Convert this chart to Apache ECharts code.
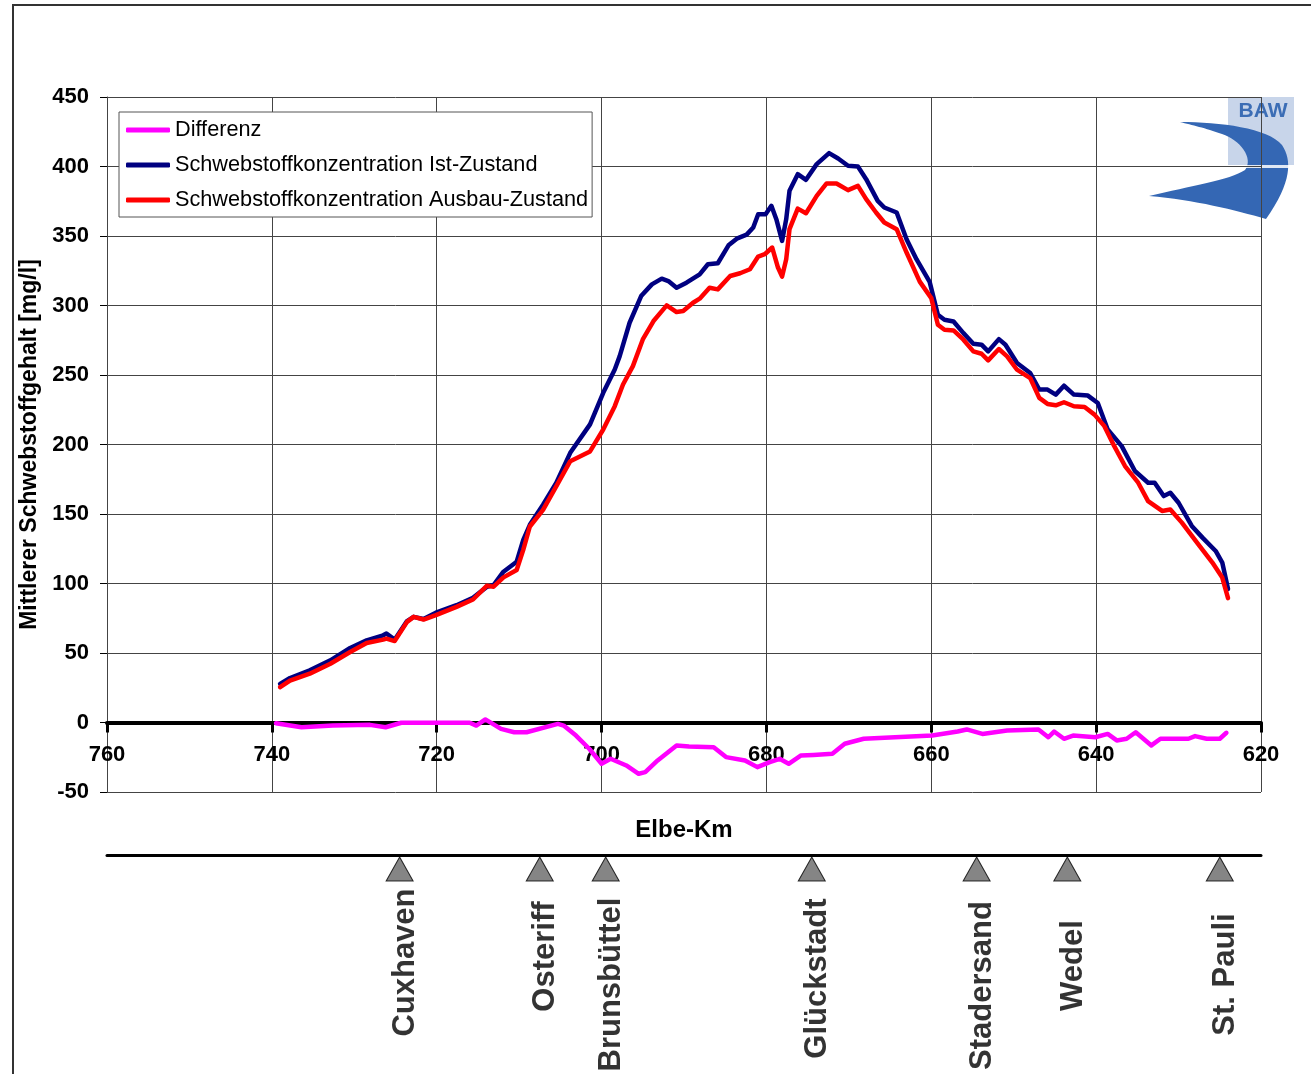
<!DOCTYPE html>
<html>
<head>
<meta charset="utf-8">
<script src="https://cdn.jsdelivr.net/npm/echarts@6/dist/echarts.min.js"></script>
<style>
  html, body { margin: 0; padding: 0; background: #fff; }
  #chart { width: 1311px; height: 1074px; }
</style>
</head>
<body>
<div id="chart"></div>
<script>
// Elbe-Km positions (descending, upstream to the right) and values in mg/l
const kmIst = [739.0,737.8,735.4,732.9,730.5,728.5,726.5,726.1,725.1,723.6,722.8,721.6,720.1,717.6,715.6,713.9,713.1,711.9,710.3,709.5,708.7,707.1,705.5,703.8,701.4,699.8,698.4,697.8,696.6,695.2,693.9,692.7,691.9,690.9,689.7,688.1,687.1,685.9,684.6,683.6,682.4,681.6,681.0,680.1,679.4,678.8,678.1,677.6,677.2,676.2,675.2,673.9,672.4,671.3,670.1,668.9,667.9,666.5,665.7,664.2,663.0,661.8,660.2,659.2,658.4,657.3,656.1,654.9,653.9,653.1,651.8,651.0,649.6,648.0,646.9,645.9,644.9,643.9,642.7,641.0,639.8,638.6,636.9,635.3,633.7,632.9,631.8,631.0,630.0,628.4,627.1,625.5,624.7,624.0];
const ist = [27.8,32,37.5,44.7,53.6,59.1,62.7,64,59.6,73,76,74.5,79,84.4,89.7,97.7,98.9,108.5,115.7,131.4,142.2,156.7,172.3,194,214.5,237.2,254.0,263.6,287.6,306.8,315.2,319.3,317.6,312.8,316.4,322.4,329.7,330.4,343.3,348.1,351.0,356.1,365.7,365.7,371.7,362.1,346.5,362.1,382.5,394.5,390.4,401.7,409.6,405.8,400.5,400,390.9,375.3,370.5,366.9,347.7,333.3,317,293.3,289.7,288.5,280.1,272.5,271.8,267.0,275.8,271.8,258.6,251.4,239.5,239.5,235.9,242.3,235.9,235.2,229.9,210.8,198.8,180.9,172.5,172.5,162.9,165.3,158.1,141.4,133.0,123.4,115.1,96];

const kmAusbau = [739.0,737.8,735.4,732.9,730.5,728.5,726.5,726.1,725.1,723.6,722.8,721.6,720.1,717.6,715.6,713.9,713.1,711.9,710.3,709.5,708.7,707.1,705.5,703.8,701.4,699.8,698.4,697.4,696.2,695.0,693.7,692.1,690.9,690.1,688.9,688.1,686.9,685.9,684.4,683.2,682.0,681.0,680.2,679.3,678.6,678.1,677.6,677.2,676.2,675.2,673.9,672.7,671.5,670.1,668.9,667.9,666.7,665.7,664.2,663.0,661.4,660.0,659.2,658.4,657.3,656.1,654.9,653.9,653.1,651.8,650.8,649.6,648.0,646.9,645.9,644.9,643.9,642.7,641.4,640.2,639.0,637.8,636.5,634.9,633.7,632.0,631.0,629.6,627.6,625.9,624.7,624.0];
const ausbau = [25.4,30.2,35.1,42.3,50.7,57.2,59.6,60.3,58.6,72.4,76.0,74.1,77.2,83.2,88.5,98.4,97.7,104.4,109.7,124.2,141.0,153.0,169.9,188.0,195,210.8,227.6,243.2,256.4,275.6,288.8,300.1,295.3,296.0,302.0,304.9,312.8,311.6,321.2,323.2,326.1,335.2,336.9,341.7,327.3,320.8,333.3,354.9,369.7,366.4,378.9,387.8,387.8,383.0,386.1,376.5,366.9,359.7,354.9,338.1,317.2,305.3,286.1,282.5,282.1,275.4,267.0,265.3,260.5,268.7,263.4,253.8,247.8,233.5,229.2,228.2,230.4,227.5,227.0,221.5,213.2,198.8,184.5,172.5,159.3,152.2,153.3,143.8,128.2,115.1,104.3,89.5];

const kmDiff = [739.5,736.4,732.6,728.1,726.2,724.3,716.0,715.2,714.1,712.2,710.6,709.1,705.3,704.6,703.1,701.5,700.0,698.9,697.0,695.5,694.7,693.2,690.9,689.4,686.4,684.9,682.6,681.1,679.6,678.4,677.3,675.8,674.3,672.0,670.5,668.2,664.4,659.9,656.8,655.7,653.8,650.8,647.0,645.8,645.1,643.9,642.8,640.1,638.6,637.5,636.3,635.2,633.3,632.2,628.8,628.0,626.6,625.0,624.2];
const differenz = [-0.5,-3.4,-2.2,-1.7,-3.4,-0.2,-0.2,-2.2,2.2,-4.6,-7.0,-7.0,-1.0,-2.2,-9.4,-18.9,-29.7,-26.1,-30.9,-36.9,-35.7,-27.3,-16.5,-17.3,-17.8,-24.9,-27.3,-32.1,-28.5,-26.1,-29.7,-23.7,-23.3,-22.5,-15.3,-11.7,-10.6,-9.4,-6.5,-5.0,-8.2,-5.8,-5.0,-10.6,-6.5,-11.7,-9.4,-10.6,-8.2,-12.9,-11.7,-7.0,-16.5,-11.7,-11.7,-9.8,-11.7,-11.7,-7.4];

// Gauging stations along the river
const stationNames = ['Cuxhaven','Osteriff','Brunsbüttel','Glückstadt','Stadersand','Wedel','St. Pauli'];
const stationKm = [724.5,707.5,699.5,674.5,654.5,643.5,625.0];

const seriesNames = ['Differenz','Schwebstoffkonzentration Ist-Zustand','Schwebstoffkonzentration Ausbau-Zustand'];
const xName = 'Elbe-Km';
const yName = 'Mittlerer Schwebstoffgehalt [mg/l]';

const FONT = '"Liberation Sans", Arial, sans-serif';
const pairs = (xs, ys) => xs.map((x, i) => [x, ys[i]]);

// Vertical placement of each rotated station label below its marker (px from marker top)
const stationLabelDrop = { 'Cuxhaven': 106, 'Osteriff': 100, 'Brunsbüttel': 128, 'Glückstadt': 122, 'Stadersand': 129, 'Wedel': 109, 'St. Pauli': 118 };

// Sample a chain of cubic Bézier segments into polygon points (for the logo swoosh)
function bezierOutline(start, segments, steps) {
  const pts = [start];
  let p0 = start;
  segments.forEach(([c1, c2, p3]) => {
    for (let s = 1; s <= steps; s++) {
      const t = s / steps, u = 1 - t;
      pts.push([
        u*u*u*p0[0] + 3*u*u*t*c1[0] + 3*u*t*t*c2[0] + t*t*t*p3[0],
        u*u*u*p0[1] + 3*u*u*t*c1[1] + 3*u*t*t*c2[1] + t*t*t*p3[1]
      ]);
    }
    p0 = p3;
  });
  return pts;
}

const swoosh = bezierOutline([1180, 122], [
  [[1220, 122], [1268, 128], [1282, 145]],
  [[1292, 160], [1292, 182], [1266, 219]],
  [[1235, 210], [1195, 200], [1149, 196]],
  [[1190, 186], [1230, 180], [1245, 170]],
  [[1254, 158], [1240, 140], [1222, 134]],
  [[1205, 128], [1192, 125], [1180, 122]]
], 16);

const chart = echarts.init(document.getElementById('chart'), null, { renderer: 'canvas' });

const lineSeries = (name, color, data) => ({
  name, type: 'line', xAxisIndex: 0, yAxisIndex: 0,
  data, symbol: 'none', smooth: false,
  lineStyle: { color, width: 4.5, cap: 'round', join: 'round' },
  itemStyle: { color },
  emphasis: { disabled: true },
  animation: false
});

chart.setOption({
  backgroundColor: '#fff',
  animation: false,
  grid: [
    { left: 107, right: 50, top: 97, bottom: 282, outerBoundsMode: 'none' },
    { left: 107, right: 50, top: 855, height: 30, outerBoundsMode: 'none' }
  ],
  legend: {
    data: seriesNames,
    orient: 'vertical',
    left: 119, top: 112,
    padding: [7, 4, 6, 7],
    itemGap: 13,
    itemWidth: 44, itemHeight: 5,
    icon: 'roundRect',
    backgroundColor: '#fff',
    borderColor: '#555', borderWidth: 1,
    textStyle: { fontFamily: FONT, fontSize: 21.7, color: '#000' },
    selectedMode: false
  },
  xAxis: [
    {
      type: 'value', gridIndex: 0, min: 620, max: 760, interval: 20, inverse: true,
      name: xName, nameLocation: 'middle', nameGap: 26,
      nameTextStyle: { fontFamily: FONT, fontSize: 24, fontWeight: 'bold', color: '#000' },
      axisLine: { show: true, onZero: true, lineStyle: { color: '#000', width: 4 } },
      axisTick: { show: true, length: 10, lineStyle: { color: '#000', width: 3 } },
      axisLabel: { margin: -48, fontFamily: FONT, fontSize: 22, fontWeight: 'bold', color: '#000' },
      splitLine: { show: true, lineStyle: { color: '#444', width: 1 } }
    },
    {
      type: 'value', gridIndex: 1, min: 620, max: 760, inverse: true, position: 'top',
      axisLine: { show: true, onZero: false, lineStyle: { color: '#000', width: 3 } },
      axisTick: { show: false }, axisLabel: { show: false }, splitLine: { show: false }
    }
  ],
  yAxis: [
    {
      type: 'value', gridIndex: 0, min: -50, max: 450, interval: 50,
      name: yName, nameLocation: 'middle', nameGap: 66,
      nameTextStyle: { fontFamily: FONT, fontSize: 23, fontWeight: 'bold', color: '#000' },
      axisLine: { show: true, lineStyle: { color: '#444', width: 1 } },
      axisTick: { show: true, length: 7, lineStyle: { color: '#000', width: 1 } },
      axisLabel: { margin: 18, fontFamily: FONT, fontSize: 22, fontWeight: 'bold', color: '#000' },
      splitLine: { show: true, lineStyle: { color: '#444', width: 1 } }
    },
    { type: 'value', gridIndex: 1, min: 0, max: 1, show: false }
  ],
  series: [
    lineSeries(seriesNames[0], '#ff00ff', pairs(kmDiff, differenz)),
    lineSeries(seriesNames[1], '#000080', pairs(kmIst, ist)),
    lineSeries(seriesNames[2], '#ff0000', pairs(kmAusbau, ausbau)),
    {
      name: 'Pegel', type: 'scatter', xAxisIndex: 1, yAxisIndex: 1,
      data: stationKm.map((k, i) => ({
        name: stationNames[i], value: [k, 1],
        label: { position: [20, stationLabelDrop[stationNames[i]]] }
      })),
      symbol: 'triangle', symbolSize: [27, 24], symbolOffset: [0, 14],
      itemStyle: { color: '#666', borderColor: '#000', borderWidth: 1 },
      label: {
        show: true, formatter: '{b}', rotate: 90,
        position: [20, 116], align: 'center', verticalAlign: 'middle',
        fontFamily: FONT, fontSize: 31, fontWeight: 'bold', color: '#000'
      },
      emphasis: { disabled: true },
      silent: true, animation: false
    }
  ],
  graphic: [
    // outer frame of the figure
    { type: 'polyline', silent: true, z: 0,
      shape: { points: [[13, 1074], [13, 5], [1311, 5]] },
      style: { stroke: '#333', lineWidth: 2, fill: null } },
    // BAW logo
    { type: 'group', silent: true, z: 100, children: [
      { type: 'rect', shape: { x: 1145, y: 96, width: 152, height: 127 }, style: { fill: '#fff' } },
      { type: 'rect', shape: { x: 1228, y: 97, width: 66, height: 68 }, style: { fill: '#c8d5ea' } },
      { type: 'text', x: 1263, y: 111, style: { text: 'BAW', font: 'bold 21px ' + FONT, fill: '#3b6db5', align: 'center', verticalAlign: 'middle' } },
      { type: 'polygon', shape: { points: swoosh }, style: { fill: '#3467b4' } },
      { type: 'rect', shape: { x: 1228, y: 165, width: 66, height: 3 }, style: { fill: 'rgba(255,255,255,0.85)' } }
    ]}
  ]
});
</script>
</body>
</html>
